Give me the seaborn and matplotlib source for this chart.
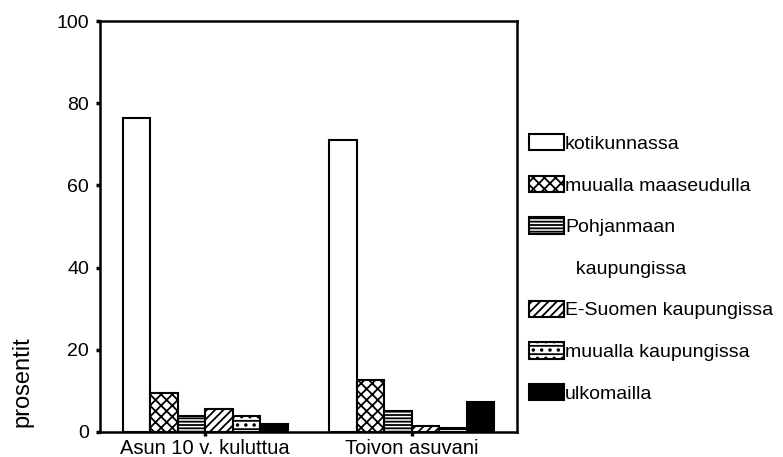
import matplotlib
matplotlib.use("Agg")
import matplotlib.pyplot as plt
import seaborn as sns
import pandas as pd
from matplotlib.patches import Patch

categories = ["Asun 10 v. kuluttua", "Toivon asuvani"]
series = ["kotikunnassa", "muualla maaseudulla", "Pohjanmaan kaupungissa",
          "E-Suomen kaupungissa", "muualla kaupungissa", "ulkomailla"]
values_asun = [76.4, 9.5, 3.9, 5.6, 3.9, 1.9]
values_toivon = [71.0, 12.7, 5.1, 1.5, 1.0, 7.3]
yticks = [0, 20, 40, 60, 80, 100]

rows = []
for s, a, t in zip(series, values_asun, values_toivon):
    rows.append({"cat": categories[0], "ser": s, "val": a})
    rows.append({"cat": categories[1], "ser": s, "val": t})
df = pd.DataFrame(rows)

sns.set_style("white")
plt.rcParams["font.family"] = ["Liberation Sans", "DejaVu Sans"]
plt.rcParams["hatch.linewidth"] = 1.3
for k in ["text.color", "axes.labelcolor", "xtick.color", "ytick.color"]:
    plt.rcParams[k] = "black"

fig = plt.figure(figsize=(7.83, 4.57), dpi=100)
ax = fig.add_axes([100/783, 25/457, 417/783, 411/457])

fills = ["white", "white", "white", "white", "white", "black"]
hatches = [None, "xxx", "-----", "////", "--..", None]
pal = dict(zip(series, fills))
sns.barplot(data=df, x="cat", y="val", hue="ser", hue_order=series,
            order=categories, palette=pal, width=0.8, ax=ax,
            edgecolor="black", linewidth=1.5, legend=False, errorbar=None)

for cont, h in zip(ax.containers, hatches):
    for bar in cont:
        if h:
            bar.set_hatch(h)

ax.set_xlim(-0.51, 1.51)
ax.set_ylim(0, 100)
ax.set_yticks(yticks)
ax.set_yticklabels([str(v) for v in yticks], fontsize=14)
ax.set_xticks(range(len(categories)))
ax.set_xticklabels(categories, fontsize=14.5)
ax.tick_params(axis="y", left=True, direction="out", length=3, width=2.5, pad=5)
ax.tick_params(axis="x", bottom=True, direction="out", length=3, width=2.5, pad=2)
for sp in ax.spines.values():
    sp.set_visible(True)
    sp.set_linewidth(1.8)
    sp.set_color("black")
ax.set_xlabel("")
ax.set_ylabel("prosentit", fontsize=17)
ax.yaxis.set_label_coords(-0.16, 0.122)

handles = []
labels = []
for s, f, h in zip(series, fills, hatches):
    handles.append(Patch(facecolor=f, edgecolor="black", hatch=h, linewidth=1.5))
    if s == "Pohjanmaan kaupungissa":
        labels.append("Pohjanmaan")
        handles.append(Patch(facecolor="none", edgecolor="none"))
        labels.append("  kaupungissa")
    else:
        labels.append(s)

fig.legend(handles, labels, loc="upper left", bbox_to_anchor=(529/783, 1 - 134/457),
           frameon=False, fontsize=14, handlelength=1.8, handleheight=0.92,
           handletextpad=0.05, labelspacing=1.17, borderaxespad=0, borderpad=0)

fig.savefig("out.png", dpi=100)
